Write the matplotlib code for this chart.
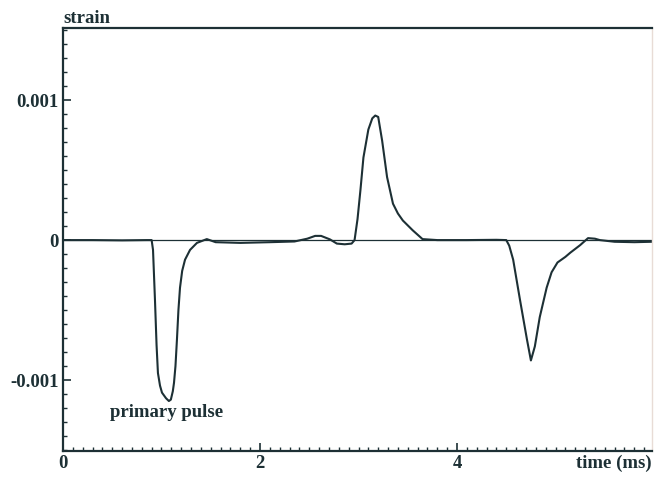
import matplotlib
matplotlib.use('Agg')
import matplotlib.pyplot as plt
from matplotlib.ticker import MultipleLocator

# strain signal (time in ms, strain)
time_ms = [0.00, 0.30, 0.60, 0.85, 0.90, 0.914, 0.934, 0.95, 0.964, 0.985, 1.005,
           1.046, 1.075, 1.095, 1.115, 1.127, 1.142, 1.157, 1.172, 1.188, 1.21,
           1.239, 1.29, 1.36, 1.46, 1.55, 1.80, 2.10, 2.35, 2.48, 2.56, 2.62,
           2.71, 2.78, 2.86, 2.93, 2.96, 2.99, 3.02, 3.05, 3.10, 3.14, 3.17,
           3.20, 3.24, 3.29, 3.35, 3.40, 3.45, 3.55, 3.65, 3.80, 4.10, 4.40,
           4.50, 4.53, 4.57, 4.64, 4.71, 4.75, 4.79, 4.84, 4.91, 4.96, 5.02,
           5.10, 5.15, 5.25, 5.33, 5.40, 5.45, 5.60, 5.80, 5.98]
strain = [0.0, 0.0, -0.002e-3, 0.0, 0.0, -0.07e-3, -0.43e-3, -0.75e-3,
          -0.95e-3, -1.04e-3, -1.09e-3, -1.13e-3, -1.15e-3, -1.14e-3,
          -1.08e-3, -1.02e-3, -0.90e-3, -0.71e-3, -0.50e-3, -0.34e-3,
          -0.22e-3, -0.14e-3, -0.07e-3, -0.02e-3, 0.007e-3, -0.015e-3,
          -0.02e-3, -0.015e-3, -0.01e-3, 0.01e-3, 0.03e-3, 0.03e-3,
          0.005e-3, -0.025e-3, -0.03e-3, -0.025e-3, 0.0, 0.15e-3, 0.36e-3,
          0.59e-3, 0.79e-3, 0.87e-3, 0.89e-3, 0.88e-3, 0.71e-3, 0.45e-3,
          0.26e-3, 0.19e-3, 0.14e-3, 0.07e-3, 0.007e-3, 0.0, 0.0, 0.002e-3,
          0.0, -0.04e-3, -0.14e-3, -0.43e-3, -0.71e-3, -0.86e-3, -0.76e-3,
          -0.55e-3, -0.34e-3, -0.23e-3, -0.16e-3, -0.12e-3, -0.09e-3,
          -0.036e-3, 0.014e-3, 0.01e-3, 0.0, -0.012e-3, -0.015e-3, -0.012e-3]

y_ticks = [-0.001, 0.0, 0.001]
y_tick_labels = ["-0.001", "0", "0.001"]
x_ticks = [0, 2, 4]
x_tick_labels = ["0", "2", "4"]

INK = "#1d3035"
FS = 13.5
plt.rcParams['font.family'] = ['Liberation Serif', 'DejaVu Serif']
plt.rcParams['font.weight'] = 'bold'

fig = plt.figure(figsize=(6.56, 4.78), dpi=100)
ax = fig.add_axes([0.096, 0.0565, 0.898, 0.8845])

ax.axhline(0, color=INK, lw=0.9, zorder=1)
ax.plot(time_ms, strain, color=INK, lw=1.5, zorder=2)

ax.set_xlim(0, 5.98)
ax.set_ylim(-0.001507, 0.001514)

ax.set_xticks(x_ticks)
ax.set_xticklabels(x_tick_labels)
ax.set_yticks(y_ticks)
ax.set_yticklabels(y_tick_labels)
ax.xaxis.set_minor_locator(MultipleLocator(0.1))
ax.yaxis.set_minor_locator(MultipleLocator(0.0001))

ax.tick_params(which='both', direction='in', colors=INK, labelsize=FS,
               top=False, right=False)
ax.tick_params(which='major', length=6, width=1.2, pad=3)
ax.tick_params(which='minor', length=3, width=1.0)
for lbl in ax.get_xticklabels() + ax.get_yticklabels():
    lbl.set_fontweight('bold')

for side in ['left', 'bottom', 'top']:
    ax.spines[side].set_color(INK)
    ax.spines[side].set_linewidth(1.6)
ax.spines['right'].set_color('#e8dcd6')
ax.spines['right'].set_linewidth(1.0)

ax.text(0.0, 1.004, "strain", transform=ax.transAxes, ha='left', va='bottom',
        fontsize=FS, fontweight='bold', color=INK)
ax.text(1.0, -0.008, "time (ms)", transform=ax.transAxes, ha='right', va='top',
        fontsize=FS, fontweight='bold', color=INK)
ax.text(1.05, -0.00123, "primary pulse", ha='center', va='center',
        fontsize=FS, fontweight='bold', color=INK)

fig.savefig("out.png", dpi=100, facecolor="white")
